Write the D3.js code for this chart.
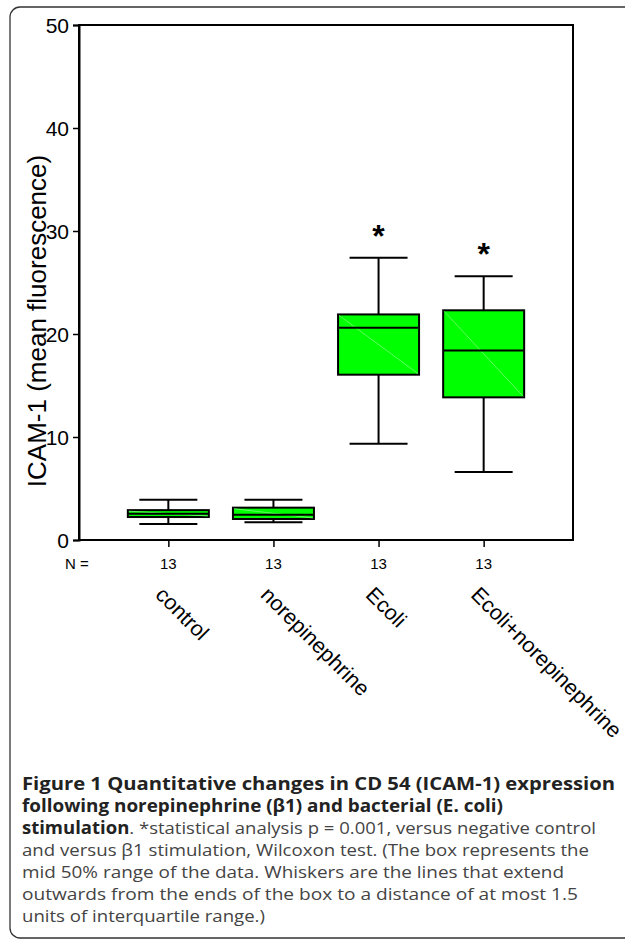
<!DOCTYPE html>
<html>
<head>
<meta charset="utf-8">
<script src="https://cdn.jsdelivr.net/npm/d3@7"></script>
<style>
  body { margin: 0; background: #fff; }
  svg { display: block; }
</style>
</head>
<body>
<svg id="chart" width="625" height="943"></svg>
<script>
// values (mean fluorescence)
const groups = ['control', 'norepinephrine', 'Ecoli', 'Ecoli+norepinephrine'];
const whiskerLow = [1.55, 1.72, 9.35, 6.6];
const q1 = [2.23, 2.04, 16.05, 13.85];
const median = [2.55, 2.46, 20.6, 18.4];
const q3 = [2.9, 3.14, 21.9, 22.3];
const whiskerHigh = [3.9, 3.9, 27.4, 25.6];
const nCount = [13, 13, 13, 13];
const significant = [false, false, true, true];
const yTicks = [0, 10, 20, 30, 40, 50];

const captionLines = [
  [{t: 'Figure 1 Quantitative changes in CD 54 (ICAM-1) expression', b: true}],
  [{t: 'following norepinephrine (\u03B21) and bacterial (E. coli)', b: true}],
  [{t: 'stimulation', b: true}, {t: '. *statistical analysis p = 0.001, versus negative control', b: false}],
  [{t: 'and versus \u03B21 stimulation, Wilcoxon test. (The box represents the', b: false}],
  [{t: 'mid 50% range of the data. Whiskers are the lines that extend', b: false}],
  [{t: 'outwards from the ends of the box to a distance of at most 1.5', b: false}],
  [{t: 'units of interquartile range.)', b: false}]
];
const captionEnds = [615, 503, 596, 589, 564, 578, 265];

const rows = groups.map((g, i) => ({
  g, lo: whiskerLow[i], q1: q1[i], med: median[i], q3: q3[i], hi: whiskerHigh[i],
  n: nCount[i], star: significant[i]
}));

const svg = d3.select('#chart');
const plotLeft = 79, plotRight = 573, plotTop = 25, plotBottom = 540;
const boxW = 81, capW = 58;

const x = d3.scalePoint().domain(groups).range([plotLeft, plotRight]).padding(0.85);
const y = d3.scaleLinear().domain([0, 50]).range([plotBottom, plotTop]);

// outer figure frame
svg.append('rect')
    .attr('x', 10).attr('y', 7)
    .attr('width', 640).attr('height', 931)
    .attr('rx', 10)
    .style('fill', 'none')
    .style('stroke', '#333')
    .style('stroke-width', 1.3);

// plot frame
svg.append('rect')
    .attr('x', plotLeft).attr('y', plotTop)
    .attr('width', plotRight - plotLeft).attr('height', plotBottom - plotTop)
    .style('fill', 'none')
    .style('stroke', '#000')
    .style('stroke-width', 2);

const yAxis = svg.append('g')
    .attr('transform', `translate(${plotLeft},0)`)
    .call(d3.axisLeft(y).tickValues(yTicks).tickSize(6).tickPadding(4));
yAxis.select('.domain').style('stroke-width', 2);
yAxis.selectAll('.tick line').style('stroke-width', 1.5);
yAxis.selectAll('text')
    .style('font-family', 'Liberation Sans, Arial, sans-serif')
    .style('font-size', '21px')
    .attr('dy', '0.36em');

const xAxis = svg.append('g')
    .attr('transform', `translate(0,${plotBottom})`)
    .call(d3.axisBottom(x).tickSize(7).tickFormat(''));
xAxis.select('.domain').remove();
xAxis.selectAll('.tick line').style('stroke-width', 1.5);

svg.append('text')
    .attr('transform', 'translate(46,321) rotate(-90)')
    .attr('text-anchor', 'middle')
    .style('font-family', 'Liberation Sans, Arial, sans-serif')
    .style('font-size', '26px')
    .text('ICAM-1 (mean fluorescence)');

// boxes
const box = svg.selectAll('.box').data(rows).enter().append('g').attr('class', 'box');

box.append('line')
    .attr('x1', d => x(d.g)).attr('x2', d => x(d.g))
    .attr('y1', d => y(d.hi)).attr('y2', d => y(d.lo))
    .style('stroke', '#000').style('stroke-width', 2);

box.selectAll('.cap').data(d => [d.lo, d.hi].map(v => ({g: d.g, v})))
  .enter().append('line')
    .attr('class', 'cap')
    .attr('x1', d => x(d.g) - capW / 2).attr('x2', d => x(d.g) + capW / 2)
    .attr('y1', d => y(d.v)).attr('y2', d => y(d.v))
    .style('stroke', '#000').style('stroke-width', 2);

box.append('rect')
    .attr('x', d => x(d.g) - boxW / 2)
    .attr('y', d => y(d.q3))
    .attr('width', boxW)
    .attr('height', d => y(d.q1) - y(d.q3))
    .style('fill', '#00ff00')
    .style('stroke', '#000')
    .style('stroke-width', 2);

// faint diagonal left by the original renderer
box.append('line')
    .attr('x1', d => x(d.g) - boxW / 2 + 1).attr('y1', d => y(d.q3) + 1)
    .attr('x2', d => x(d.g) + boxW / 2 - 1).attr('y2', d => y(d.q1) - 1)
    .style('stroke', '#9fff9f').style('stroke-width', 0.6);

box.append('line')
    .attr('x1', d => x(d.g) - boxW / 2).attr('x2', d => x(d.g) + boxW / 2)
    .attr('y1', d => y(d.med)).attr('y2', d => y(d.med))
    .style('stroke', '#000').style('stroke-width', 2);

box.filter(d => d.star).append('text')
    .attr('x', d => x(d.g))
    .attr('y', d => y(d.hi) - 11)
    .attr('text-anchor', 'middle')
    .style('font-family', 'Liberation Sans, Arial, sans-serif')
    .style('font-size', '32px')
    .style('font-weight', 'bold')
    .text('*');

// N row
svg.append('text')
    .attr('x', 65).attr('y', 569)
    .style('font-family', 'Liberation Sans, Arial, sans-serif')
    .style('font-size', '15px')
    .text('N =');

svg.selectAll('.ncount').data(rows).enter().append('text')
    .attr('class', 'ncount')
    .attr('x', d => x(d.g)).attr('y', 569)
    .attr('text-anchor', 'middle')
    .style('font-family', 'Liberation Sans, Arial, sans-serif')
    .style('font-size', '15px')
    .text(d => d.n);

svg.selectAll('.glabel').data(rows).enter().append('text')
    .attr('class', 'glabel')
    .attr('transform', d => `translate(${x(d.g) - 14},596) rotate(45)`)
    .style('font-family', 'Liberation Sans, Arial, sans-serif')
    .style('font-size', '21.5px')
    .text(d => d.g);

// caption
const cap = svg.selectAll('.caption').data(captionLines).enter().append('text')
    .attr('class', 'caption')
    .attr('x', 22)
    .attr('y', (d, i) => 790 + i * 22)
    .attr('textLength', (d, i) => captionEnds[i] - 22)
    .attr('lengthAdjust', 'spacingAndGlyphs')
    .style('font-family', 'Open Sans, Noto Sans, sans-serif')
    .style('font-size', '17px');

cap.selectAll('tspan').data(d => d).enter().append('tspan')
    .style('font-weight', d => d.b ? 'bold' : 'normal')
    .style('fill', d => d.b ? '#222' : '#444')
    .text(d => d.t);
</script>
</body>
</html>
